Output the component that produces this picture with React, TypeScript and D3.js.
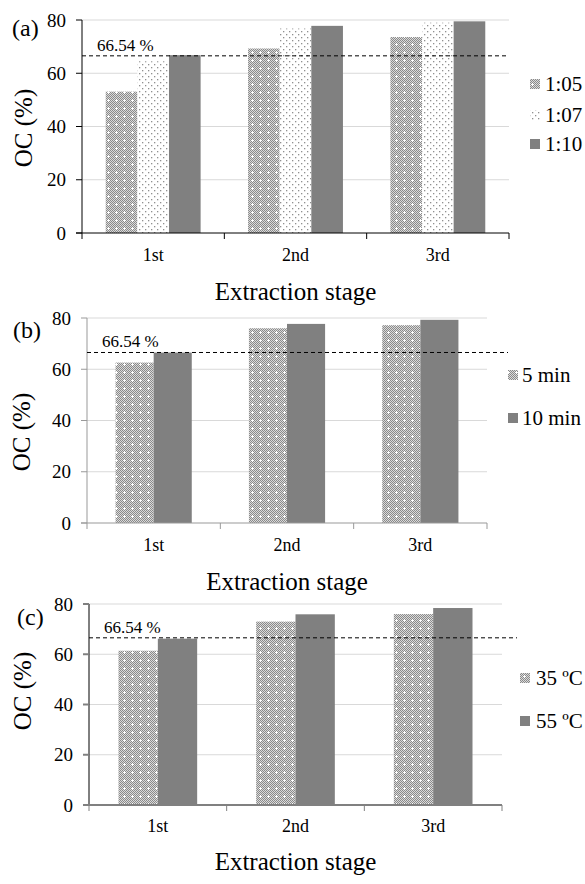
import React, { useEffect, useRef } from "react";
import * as d3 from "d3";

const stages = ["1st", "2nd", "3rd"];
const yTicks = [0, 20, 40, 60, 80];
const reference = 66.54;

const ratioNames = ["1:05", "1:07", "1:10"];
const ratio105 = [53.1, 69.3, 73.6];
const ratio107 = [64.5, 76.8, 79.0];
const ratio110 = [66.8, 77.8, 79.5];

const timeNames = ["5 min", "10 min"];
const time5 = [62.6, 76.0, 77.2];
const time10 = [66.5, 77.7, 79.3];

const tempNames = ["35 ºC", "55 ºC"];
const temp35 = [61.4, 73.0, 76.0];
const temp55 = [66.2, 75.9, 78.4];

const FONT = "Liberation Serif, Times New Roman, Tinos, DejaVu Serif, serif";

interface Panel {
  tag: string;
  names: string[];
  values: number[][];
  fills: string[];
  x0: number;
  x1: number;
  yTop: number;
  yBot: number;
  refEnd: number;
  tagPos: [number, number];
  yTitle: [number, number];
  catY: number;
  titleY: number;
  legX: number;
  legTextX: number;
  legY: number[];
  axisY: string;
  axisX: string;
  tickCol: string;
  axisXWidth: number;
}

const panels: Panel[] = [
  {
    tag: "(a)",
    names: ratioNames,
    values: [ratio105, ratio107, ratio110],
    fills: ["url(#checker)", "url(#dots)", "#808080"],
    x0: 82, x1: 509, yTop: 20, yBot: 233, refEnd: 508,
    tagPos: [12, 36], yTitle: [24, 128], catY: 261, titleY: 300,
    legX: 530, legTextX: 545, legY: [84, 115, 144],
    axisY: "#000", axisX: "#000", tickCol: "#000", axisXWidth: 1,
  },
  {
    tag: "(b)",
    names: timeNames,
    values: [time5, time10],
    fills: ["url(#checker)", "#808080"],
    x0: 87, x1: 487, yTop: 318, yBot: 523, refEnd: 508,
    tagPos: [13, 338], yTitle: [22, 432], catY: 551, titleY: 590,
    legX: 508, legTextX: 522, legY: [375, 418],
    axisY: "#999", axisX: "#999", tickCol: "#999", axisXWidth: 1,
  },
  {
    tag: "(c)",
    names: tempNames,
    values: [temp35, temp55],
    fills: ["url(#checker)", "#808080"],
    x0: 89, x1: 502, yTop: 604, yBot: 805, refEnd: 517,
    tagPos: [17, 625], yTitle: [23, 691], catY: 832, titleY: 870,
    legX: 520, legTextX: 536, legY: [678, 721],
    axisY: "#000", axisX: "#808080", tickCol: "#808080", axisXWidth: 2,
  },
];

const App: React.FC = () => {
  const svgRef = useRef<SVGSVGElement | null>(null);

  useEffect(() => {
    if (!svgRef.current) return;
    const svg = d3.select(svgRef.current);
    svg.selectAll("*").remove();

    // patterns
    const defs = svg.append("defs");
    const checker = defs
      .append("pattern")
      .attr("id", "checker")
      .attr("patternUnits", "userSpaceOnUse")
      .attr("width", 8)
      .attr("height", 8);
    checker.append("rect").attr("width", 8).attr("height", 8).attr("fill", "#dadada");
    for (let i = 0; i < 8; i++) {
      for (let j = 0; j < 8; j++) {
        if ((i + j) % 2 === 0) {
          checker.append("rect").attr("x", i).attr("y", j).attr("width", 1).attr("height", 1).attr("fill", "#8a8a8a");
        }
      }
    }
    checker.append("rect").attr("x", 3).attr("y", 4).attr("width", 3).attr("height", 1).attr("fill", "#fff");
    checker.append("rect").attr("x", 4).attr("y", 3).attr("width", 1).attr("height", 3).attr("fill", "#fff");

    const dots = defs
      .append("pattern")
      .attr("id", "dots")
      .attr("patternUnits", "userSpaceOnUse")
      .attr("width", 6)
      .attr("height", 6);
    dots.append("rect").attr("width", 6).attr("height", 6).attr("fill", "#fff");
    dots.append("rect").attr("x", 1).attr("y", 1).attr("width", 1.3).attr("height", 1.3).attr("fill", "#909090");
    dots.append("rect").attr("x", 4).attr("y", 4).attr("width", 1.3).attr("height", 1.3).attr("fill", "#909090");

    panels.forEach((p) => {
      const g = svg.append("g");
      const x = d3.scaleBand().domain(stages).range([p.x0, p.x1]).paddingInner(0).paddingOuter(0);
      const y = d3.scaleLinear().domain([0, 80]).range([p.yBot, p.yTop]);
      const n = p.names.length;
      const barW = x.bandwidth() / (n + 1.5);
      const xs = d3.scaleBand<number>().domain(d3.range(n)).range([0.75 * barW, 0.75 * barW + n * barW]);

      // gridlines
      g.selectAll(".grid")
        .data(yTicks.filter((t) => t > 0))
        .enter()
        .append("line")
        .attr("x1", p.x0)
        .attr("x2", p.x1)
        .attr("y1", (d) => y(d))
        .attr("y2", (d) => y(d))
        .attr("stroke", "#d9d9d9")
        .attr("stroke-width", 1);

      // bars
      p.values.forEach((series, si) => {
        g.selectAll(`.bar${si}`)
          .data(series)
          .enter()
          .append("rect")
          .attr("x", (_, i) => x(stages[i])! + xs(si)!)
          .attr("y", (d) => y(d))
          .attr("width", xs.bandwidth())
          .attr("height", (d) => p.yBot - y(d))
          .attr("fill", p.fills[si]);
      });

      // y axis
      g.append("line")
        .attr("x1", p.x0).attr("x2", p.x0)
        .attr("y1", p.yTop).attr("y2", p.yBot)
        .attr("stroke", p.axisY);
      g.selectAll(".ytick")
        .data(yTicks)
        .enter()
        .append("line")
        .attr("x1", p.x0 - 6)
        .attr("x2", p.x0)
        .attr("y1", (d) => y(d))
        .attr("y2", (d) => y(d))
        .attr("stroke", p.tickCol)
        .attr("stroke-width", p.tag === "(c)" ? 2 : 1);
      g.selectAll(".ylab")
        .data(yTicks)
        .enter()
        .append("text")
        .attr("x", p.x0 - 16)
        .attr("y", (d) => y(d))
        .attr("dy", "0.35em")
        .attr("text-anchor", "end")
        .attr("font-size", 19)
        .text((d) => d);

      // x axis
      g.append("line")
        .attr("x1", p.x0 - 6).attr("x2", p.x1)
        .attr("y1", p.yBot).attr("y2", p.yBot)
        .attr("stroke", p.axisX)
        .attr("stroke-width", p.axisXWidth);
      const bounds = [p.x0, ...stages.map((s) => x(s)! + x.bandwidth())];
      g.selectAll(".xtick")
        .data(bounds)
        .enter()
        .append("line")
        .attr("x1", (d) => d)
        .attr("x2", (d) => d)
        .attr("y1", p.yBot)
        .attr("y2", p.yBot + 6)
        .attr("stroke", p.axisX);
      g.selectAll(".xlab")
        .data(stages)
        .enter()
        .append("text")
        .attr("x", (d) => x(d)! + x.bandwidth() / 2)
        .attr("y", p.catY)
        .attr("text-anchor", "middle")
        .attr("font-size", 18)
        .text((d) => d);

      // reference line
      g.append("line")
        .attr("x1", p.x0)
        .attr("x2", p.refEnd)
        .attr("y1", y(reference))
        .attr("y2", y(reference))
        .attr("stroke", "#000")
        .attr("stroke-dasharray", "4,3");
      g.append("text")
        .attr("x", p.x0 + 15)
        .attr("y", y(reference) - 5)
        .attr("font-size", 17)
        .text(`${reference} %`);

      // titles
      g.append("text")
        .attr("x", p.tagPos[0])
        .attr("y", p.tagPos[1])
        .attr("font-size", 24)
        .text(p.tag);
      g.append("text")
        .attr("transform", `translate(${p.yTitle[0] + 8}, ${p.yTitle[1]}) rotate(-90)`)
        .attr("text-anchor", "middle")
        .attr("font-size", 25)
        .text("OC (%)");
      g.append("text")
        .attr("x", (p.x0 + p.x1) / 2)
        .attr("y", p.titleY)
        .attr("text-anchor", "middle")
        .attr("font-size", 25)
        .text("Extraction stage");

      // legend
      p.names.forEach((name, i) => {
        g.append("rect")
          .attr("x", p.legX)
          .attr("y", p.legY[i] - 5)
          .attr("width", 10)
          .attr("height", 10)
          .attr("fill", p.fills[i]);
        g.append("text")
          .attr("x", p.legTextX)
          .attr("y", p.legY[i])
          .attr("dy", "0.35em")
          .attr("font-size", 21)
          .text(name);
      });
    });
  }, []);

  return (
    <svg
      ref={svgRef}
      width={585}
      height={884}
      fontFamily={FONT}
      style={{ position: "absolute", left: 0, top: 0, background: "#fff" }}
    ></svg>
  );
};

export default App;
